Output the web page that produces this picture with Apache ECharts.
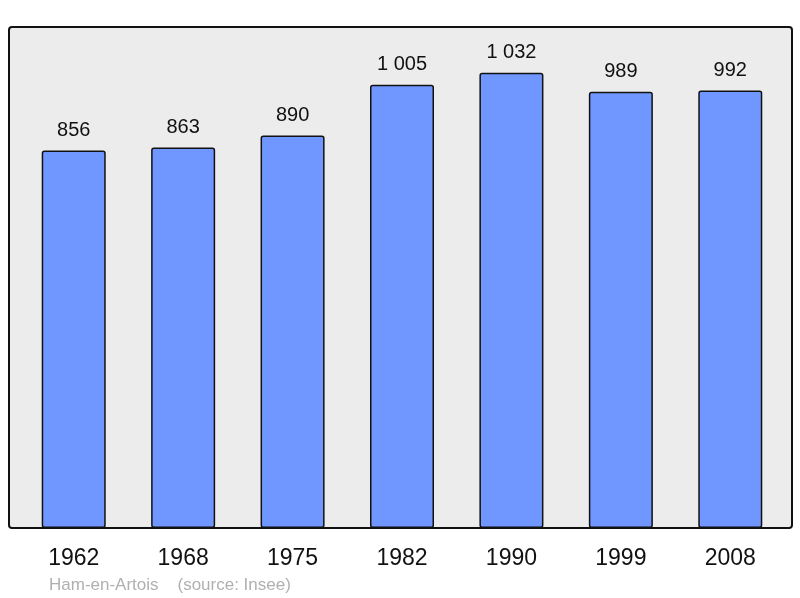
<!DOCTYPE html>
<html><head><meta charset="utf-8">
<script src="https://cdn.jsdelivr.net/npm/echarts@6/dist/echarts.min.js"></script>
<style>html,body{margin:0;padding:0;background:#fff}#c{width:800px;height:598px}</style>
</head><body><div id="c"></div>
<script>
const categories = ['1962','1968','1975','1982','1990','1999','2008'];
const population = [856, 863, 890, 1005, 1032, 989, 992];
const footer = 'Ham-en-Artois    (source: Insee)';

function fmt(v){ return String(v).replace(/\B(?=(\d{3})+(?!\d))/g, ' '); }

const chart = echarts.init(document.getElementById('c'), null, {renderer:'canvas'});
chart.setOption({
  animation:false,
  textStyle:{fontFamily:'Liberation Sans, Arial, sans-serif'},
  graphic:[
    {type:'rect', z:-10, shape:{x:9, y:27, width:783, height:501, r:3},
     style:{fill:'#ececec', stroke:'#111', lineWidth:2}},
    {type:'text', left:49, top:577, style:{text:footer, fill:'#b0b0b0', fontSize:17, fontFamily:'Liberation Sans, Arial, sans-serif'}}
  ],
  grid:{left:19, right:15, top:27, bottom:70},
  xAxis:{type:'category', data:categories, boundaryGap:true,
    axisLine:{show:false}, axisTick:{show:false},
    axisLabel:{color:'#111', fontSize:23, margin:19}},
  yAxis:{type:'value', min:0, max:1136, show:false, splitLine:{show:false}},
  series:[{type:'bar', data:population, barWidth:'58.5%',
    itemStyle:{color:'#7097ff', borderColor:'#111', borderWidth:1.5, borderRadius:2},
    label:{show:true, position:'top', distance:10, color:'#111', fontSize:20, formatter:p=>fmt(p.value)}}]
});
</script></body></html>
